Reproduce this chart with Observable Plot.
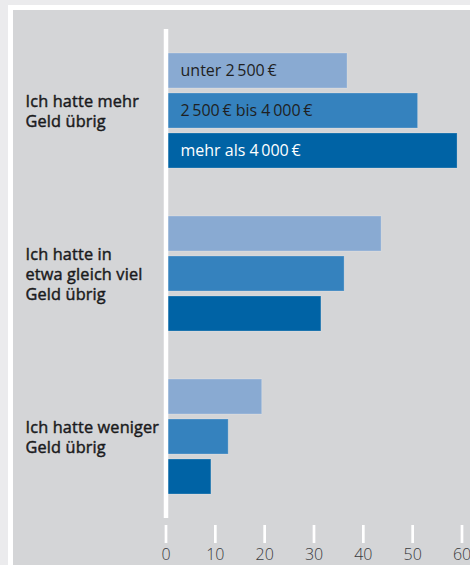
<!DOCTYPE html>
<html>
<head>
<meta charset="utf-8">
<script src="https://cdn.jsdelivr.net/npm/d3@7"></script>
<script src="https://cdn.jsdelivr.net/npm/@observablehq/plot@0.6"></script>
<style>
  html, body { margin: 0; padding: 0; background: #ebebed; width: 470px; height: 565px; overflow: hidden; }
  #panel { position: absolute; left: 8px; top: 5px; width: 470px; height: 570px;
           border-left: 5px solid #fff; border-top: 5px solid #fff; background: #d4d5d7; }
  #chart { position: absolute; left: 0; top: 0; }
  #chart svg { background: transparent; overflow: visible; }
  .catlabel text { letter-spacing: 0.15px; }
</style>
</head>
<body>
<div id="panel"></div>
<div id="chart"></div>
<script>
const groups = [
  "Ich hatte mehr\nGeld übrig",
  "Ich hatte in\netwa gleich viel\nGeld übrig",
  "Ich hatte weniger\nGeld übrig"
];
const series = ["unter 2\u2009500\u2009€", "2\u2009500\u2009€ bis 4\u2009000\u2009€", "mehr als 4\u2009000\u2009€"];
const valuesUnter = [36.8, 43.7, 19.5];
const valuesMitte = [51.1, 36.2, 12.7];
const valuesHoch  = [59.1, 31.5, 9.2];
const xTicks = [0, 10, 20, 30, 40, 50, 60];
const colors = ["#89aad2", "#3582be", "#0063a5"];

const seriesValues = [valuesUnter, valuesMitte, valuesHoch];
const rows = [];
groups.forEach((g, gi) => series.forEach((s, si) => rows.push({group: g, series: s, value: seriesValues[si][gi]})));

const font = "'Open Sans', 'Noto Sans', sans-serif";

const chart = Plot.plot({
  width: 470,
  height: 565,
  marginLeft: 165.5,
  marginRight: 8.5,
  marginTop: 28,
  marginBottom: 46,
  style: {fontFamily: font, background: "transparent"},
  x: {domain: [0, 60], axis: null, label: null},
  y: {domain: series, axis: null, paddingInner: 0.12, paddingOuter: 0.56},
  fy: {domain: groups, axis: null, padding: 0},
  color: {domain: series, range: colors},
  marks: [
    Plot.barX(rows, {x: "value", y: "series", fy: "group", fill: "series",
      stroke: "#ffffff", strokeOpacity: 0.22, strokeWidth: 1}),
    Plot.ruleX([0], {stroke: "#ffffff", strokeWidth: 4.5}),
    Plot.text(rows.filter(d => d.group === groups[0]), {
      x: 0, y: "series", fy: "group", text: "series",
      dx: 14.5, textAnchor: "start", fontSize: 16,
      fill: d => d.series === series[2] ? "#ffffff" : "#1f1f22"
    }),
    Plot.text(groups, {
      fy: d => d, text: d => d, frameAnchor: "left", dx: -140.5,
      textAnchor: "start", fontSize: 16.3, fontWeight: 400, lineHeight: 1.23,
      fill: "#1a1a1c", stroke: "#1a1a1c", strokeWidth: 0.45, className: "catlabel"
    }),
    Plot.axisX({
      ticks: xTicks, tickSize: 18, stroke: "#ffffff", strokeWidth: 2.7,
      dy: 7, tickPadding: 5, fontSize: 16, fontWeight: 300, fill: "#3a3a3c",
      tickFormat: d => String(d), label: null
    })
  ]
});
document.getElementById("chart").appendChild(chart);
</script>
</body>
</html>
